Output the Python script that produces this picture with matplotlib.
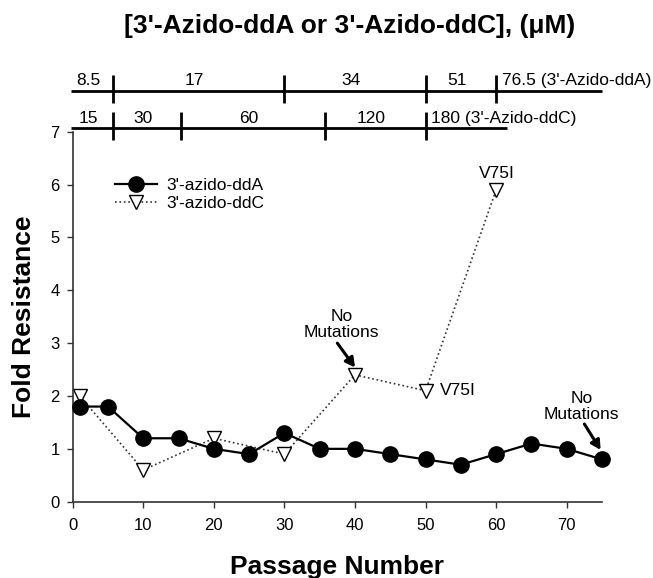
import matplotlib
matplotlib.use("Agg")
import matplotlib.pyplot as plt

plt.rcParams['font.family'] = ['Liberation Sans', 'DejaVu Sans']

# ---- data ----
passage_ddA = [1, 5, 10, 15, 20, 25, 30, 35, 40, 45, 50, 55, 60, 65, 70, 75]
fold_ddA = [1.8, 1.8, 1.2, 1.2, 1.0, 0.9, 1.3, 1.0, 1.0, 0.9, 0.8, 0.7, 0.9, 1.1, 1.0, 0.8]
passage_ddC = [1, 10, 20, 30, 40, 50, 60]
fold_ddC = [2.0, 0.6, 1.2, 0.9, 2.4, 2.1, 5.9]

# concentration schedule (passage at which concentration changes)
ddA_breaks = [5.7, 30, 50, 60]
ddA_conc = ['8.5', '17', '34', '51']
ddA_last = "76.5 (3'-Azido-ddA)"
ddC_breaks = [5.7, 15.3, 35.7, 50]
ddC_conc = ['15', '30', '60', '120']
ddC_last = "180 (3'-Azido-ddC)"

x_ticks = [0, 10, 20, 30, 40, 50, 60, 70]
y_ticks = [0, 1, 2, 3, 4, 5, 6, 7]

W, H = 653, 578
fig = plt.figure(figsize=(W / 100, H / 100), dpi=100)
ax = fig.add_axes([72.7 / W, 1 - 501.7 / H, (602 - 72.7) / W, (501.7 - 131.7) / H])

ax.plot(passage_ddA, fold_ddA, '-', color='black', lw=1.6, marker='o', ms=11,
        mfc='black', mec='black', label="3'-azido-ddA", clip_on=False, zorder=3)
ax.plot(passage_ddC, fold_ddC, ':', color='#333333', lw=1.2, marker='v', ms=10,
        mfc='white', mec='black', mew=1.0, label="3'-azido-ddC", clip_on=False, zorder=2)

ax.set_xlim(0, 75)
ax.set_ylim(0, 7)
ax.set_xticks(x_ticks)
ax.set_yticks(y_ticks)
for s in ['top', 'right']:
    ax.spines[s].set_visible(False)
for s in ['left', 'bottom']:
    ax.spines[s].set_color('#333333')
    ax.spines[s].set_linewidth(1.2)
ax.tick_params(direction='out', length=4.5, width=1.0, color='#333333',
               labelsize=12)
ax.tick_params(axis='x', pad=7)
ax.tick_params(axis='y', pad=5)

ax.set_xlabel('Passage Number', fontsize=19, fontweight='bold', va='baseline')
ax.xaxis.set_label_coords(0.5, -0.1946)
ax.set_ylabel('Fold Resistance', fontsize=19, fontweight='bold', va='baseline',
              ha='center', rotation_mode='anchor')
ax.yaxis.set_label_coords(-0.0794, 0.5)

fig.text(349.5 / W, 1 - 32.7 / H, "[3'-Azido-ddA or 3'-Azido-ddC], (\u03bcM)",
         fontsize=19, fontweight='bold', ha='center', va='baseline')

# ---- concentration scale bars above the plot ----
def scale_bar(y_line, breaks, labels, last, x_end, y_text):
    ax.plot([-0.2, x_end], [y_line, y_line], color='black', lw=2.0,
            clip_on=False, solid_capstyle='butt')
    for b in breaks:
        ax.plot([b, b], [y_line - 0.23, y_line + 0.30], color='black', lw=2.0,
                clip_on=False, solid_capstyle='butt')
    starts = [0] + breaks[:-1]
    for s, e, lab in zip(starts, breaks, labels):
        ax.text((s + e) / 2 - 0.6, y_text, lab, fontsize=12.5, ha='center',
                va='baseline', clip_on=False)
    ax.text(breaks[-1] + 0.8, y_text, last, fontsize=12.5, ha='left',
            va='baseline', clip_on=False)

scale_bar(7.775, ddA_breaks, ddA_conc, ddA_last, 75, 7.883)
scale_bar(7.064, ddC_breaks, ddC_conc, ddC_last, 61.5, 7.17)

# ---- annotations ----
arrow = dict(arrowstyle='-|>,head_length=0.55,head_width=0.3', lw=2.2,
             color='black', shrinkA=0, shrinkB=0)
ax.text(38.1, 3.35, 'No\nMutations', fontsize=12.5, ha='center', va='center',
        linespacing=1.05)
ax.annotate('', xy=(40.0, 2.54), xytext=(37.5, 3.0), arrowprops=arrow)
ax.text(72.1, 1.80, 'No\nMutations', fontsize=12.5, ha='center', va='center',
        linespacing=1.05, clip_on=False)
ax.annotate('', xy=(74.8, 0.98), xytext=(72.5, 1.47), arrowprops=arrow,
            annotation_clip=False)
ax.text(52.1, 2.11, 'V75I', fontsize=12.5, ha='left', va='center')
ax.text(60.1, 6.21, 'V75I', fontsize=12.5, ha='center', va='center')

leg = ax.legend(loc='upper left', bbox_to_anchor=(115 / W, 1 - 177.7 / H),
                bbox_transform=fig.transFigure, frameon=False, fontsize=12.5,
                handlelength=2.4, handletextpad=0.55, labelspacing=0.15,
                borderpad=0, borderaxespad=0, numpoints=1)

fig.savefig('out.png', dpi=100)
